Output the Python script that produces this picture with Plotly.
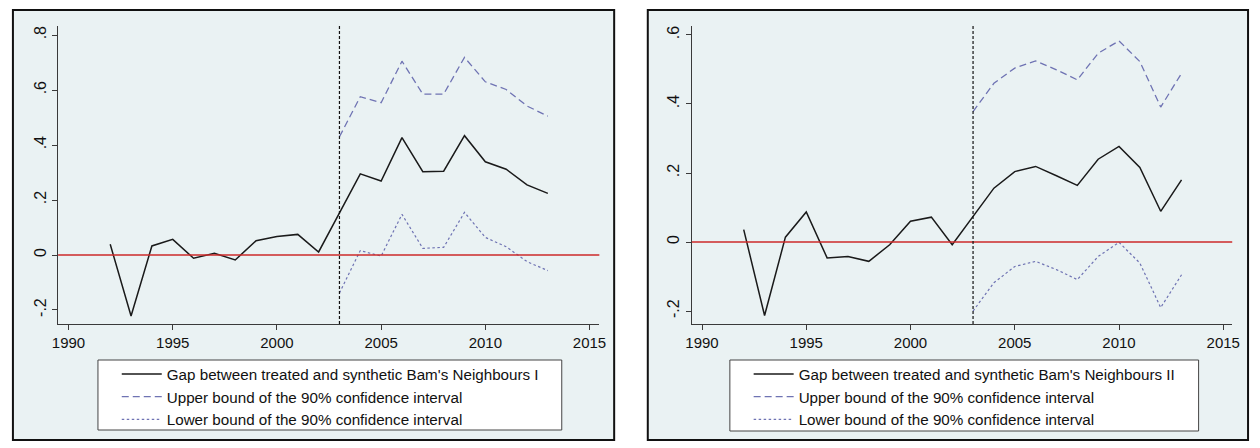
import plotly.graph_objects as go

W, H = 1260, 448

# ---------------- data ----------------
years_gap = list(range(1992, 2014))
years_ci = list(range(2003, 2014))

gap_1 = [0.039, -0.222, 0.033, 0.057, -0.012, 0.006, -0.018, 0.052, 0.067, 0.075, 0.011,
         0.152, 0.295, 0.269, 0.427, 0.303, 0.305, 0.434, 0.339, 0.312, 0.255, 0.224]
upper_1 = [0.43, 0.576, 0.554, 0.705, 0.585, 0.585, 0.719, 0.63, 0.602, 0.542, 0.505]
lower_1 = [-0.138, 0.016, -0.004, 0.148, 0.024, 0.028, 0.155, 0.064, 0.030, -0.024, -0.057]

gap_2 = [0.036, -0.213, 0.014, 0.087, -0.046, -0.042, -0.056, -0.008, 0.060, 0.072, -0.008,
         0.074, 0.156, 0.204, 0.219, 0.192, 0.164, 0.240, 0.277, 0.216, 0.089, 0.180]
upper_2 = [0.378, 0.46, 0.504, 0.525, 0.499, 0.47, 0.547, 0.583, 0.523, 0.391, 0.489]
lower_2 = [-0.200, -0.118, -0.071, -0.056, -0.080, -0.109, -0.042, -0.001, -0.061, -0.190, -0.095]

x_ticks = [1990, 1995, 2000, 2005, 2010, 2015]
y_ticks_1 = [-0.2, 0, 0.2, 0.4, 0.6, 0.8]
y_ticks_2 = [-0.2, 0, 0.2, 0.4, 0.6]
y_ticktext_1 = ["-.2", "0", ".2", ".4", ".6", ".8"]
y_ticktext_2 = ["-.2", "0", ".2", ".4", ".6"]
treat_year = 2003

names_1 = ["Gap between treated and synthetic Bam's Neighbours I",
           "Upper bound of the 90% confidence interval",
           "Lower bound of the 90% confidence interval"]
names_2 = ["Gap between treated and synthetic Bam's Neighbours II",
           "Upper bound of the 90% confidence interval",
           "Lower bound of the 90% confidence interval"]

# ---------------- style ----------------
FONT = "Liberation Sans, Arial, sans-serif"
BG = "#eaf2f3"
CI_COLOR = "#6f73b3"
AX_COLOR = "#3a3a3a"

fig = go.Figure()

def px_x(p):
    return p / W

def px_y(p):
    return 1 - p / H

panels = [
    dict(gap=gap_1, upper=upper_1, lower=lower_1, names=names_1,
         xa="x", ya="y", legend="legend",
         xdom=[px_x(52.7), px_x(600)], xrange=[1989.5, 2015.47], yrange=[-0.251, 0.833],
         yt=y_ticks_1, ytt=y_ticktext_1,
         frame=(7, 10, 615, 440), lbox=(93, 360, 562, 430)),
    dict(gap=gap_2, upper=upper_2, lower=lower_2, names=names_2,
         xa="x2", ya="y2", legend="legend2",
         xdom=[px_x(693.5), px_x(1240)], xrange=[1989.51, 2015.43], yrange=[-0.2376, 0.626],
         yt=y_ticks_2, ytt=y_ticktext_2,
         frame=(649, 10, 1256, 440), lbox=(732, 360, 1206, 431)),
]

ydom = [px_y(324), px_y(26)]
shapes = []

for i, p in enumerate(panels):
    fig.add_trace(go.Scatter(x=years_gap, y=p["gap"], mode="lines", name=p["names"][0],
                             line=dict(color="#1a1a1a", width=1.5),
                             xaxis=p["xa"], yaxis=p["ya"], legend=p["legend"]))
    fig.add_trace(go.Scatter(x=years_ci, y=p["upper"], mode="lines", name=p["names"][1],
                             line=dict(color=CI_COLOR, width=1.3, dash="7px,4px"),
                             xaxis=p["xa"], yaxis=p["ya"], legend=p["legend"]))
    fig.add_trace(go.Scatter(x=years_ci, y=p["lower"], mode="lines", name=p["names"][2],
                             line=dict(color=CI_COLOR, width=1.2, dash="2.5px,2.5px"),
                             xaxis=p["xa"], yaxis=p["ya"], legend=p["legend"]))

    axn = "" if i == 0 else "2"
    fig.update_layout(**{
        f"xaxis{axn}": dict(domain=p["xdom"], range=p["xrange"], anchor=p["ya"],
                            tickvals=x_ticks, ticks="outside", ticklen=5, tickcolor=AX_COLOR,
                            showline=True, linecolor=AX_COLOR, linewidth=1, showgrid=False,
                            zeroline=False, tickfont=dict(family=FONT, size=15, color="#111"),
                            fixedrange=True),
        f"yaxis{axn}": dict(domain=ydom, range=p["yrange"], anchor=p["xa"],
                            tickvals=p["yt"], ticktext=p["ytt"], tickangle=-90,
                            ticks="outside", ticklen=5, tickcolor=AX_COLOR,
                            showline=True, linecolor=AX_COLOR, linewidth=1,
                            showgrid=True, gridcolor=BG, gridwidth=1,
                            zeroline=False, tickfont=dict(family=FONT, size=16, color="#111"),
                            fixedrange=True),
    })

    # outer frame with light background
    fx0, fy0, fx1, fy1 = p["frame"]
    shapes.append(dict(type="rect", xref="paper", yref="paper", layer="below",
                       x0=px_x(fx0), x1=px_x(fx1), y0=px_y(fy1), y1=px_y(fy0),
                       fillcolor=BG, line=dict(color="#111111", width=2)))
    # legend box
    lx0, ly0, lx1, ly1 = p["lbox"]
    shapes.append(dict(type="rect", xref="paper", yref="paper", layer="below",
                       x0=px_x(lx0), x1=px_x(lx1), y0=px_y(ly1), y1=px_y(ly0),
                       fillcolor="white", line=dict(color="#444444", width=1)))
    # zero line
    shapes.append(dict(type="line", xref=f"{p['xa']} domain", yref=p["ya"],
                       x0=0, x1=1, y0=0, y1=0, line=dict(color="#cc2a2a", width=1.6)))
    # treatment year line
    shapes.append(dict(type="line", xref=p["xa"], yref=f"{p['ya']} domain",
                       x0=treat_year, x1=treat_year, y0=0, y1=1,
                       line=dict(color="#111111", width=1.2, dash="3px,2px")))

legend_common = dict(bgcolor="rgba(0,0,0,0)", borderwidth=0, xanchor="left", yanchor="top",
                     font=dict(family=FONT, size=15.2, color="#111"), tracegroupgap=0,
                     itemwidth=40)
fig.update_layout(
    width=W, height=H,
    margin=dict(l=0, r=0, t=0, b=0),
    paper_bgcolor="white", plot_bgcolor="white",
    showlegend=True,
    shapes=shapes,
    legend=dict(x=px_x(112), y=px_y(357.5), **legend_common),
    legend2=dict(x=px_x(751), y=px_y(357.5), **legend_common),
    hovermode=False,
)

fig.write_html("out.html", config=dict(displayModeBar=False, staticPlot=True),
               post_script="document.body.style.margin='0';")
